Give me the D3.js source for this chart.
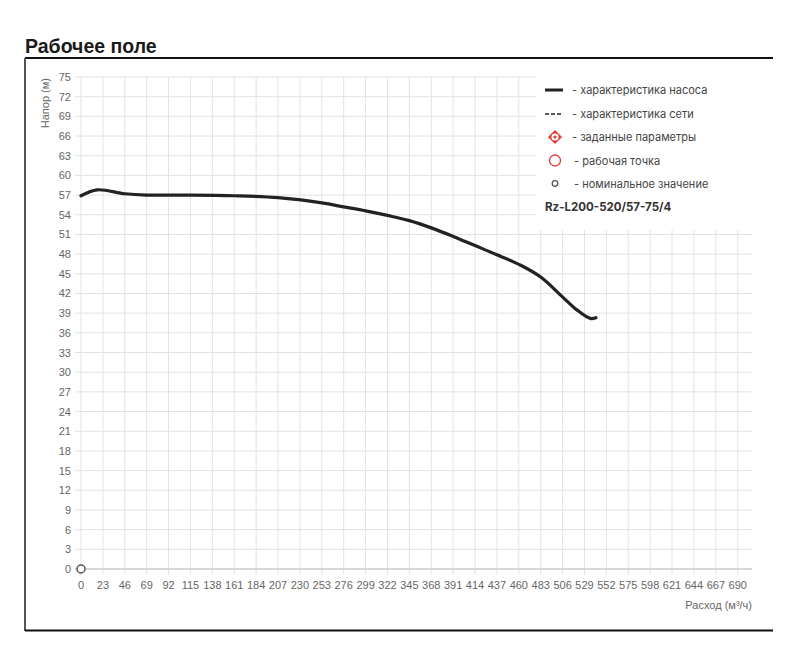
<!DOCTYPE html>
<html>
<head>
<meta charset="utf-8">
<script src="https://cdn.jsdelivr.net/npm/d3@7"></script>
<style>
  body { margin: 0; background: #fff; }
  svg { display: block; font-family: "Liberation Sans", Arial, sans-serif; }
</style>
</head>
<body>
<svg id="chart"></svg>
<script>
// расход, м³/ч
const flow = [0, 17, 46, 69, 115, 161, 207, 253, 276, 299, 322, 345, 368, 391, 414, 437, 462, 483, 505, 521, 535, 541];
// напор, м
const head = [56.9, 57.8, 57.2, 57.0, 57.0, 56.9, 56.6, 55.8, 55.2, 54.6, 53.9, 53.1, 52.0, 50.7, 49.3, 47.9, 46.3, 44.5, 41.6, 39.5, 38.2, 38.3];

const xTicks = d3.range(0, 691, 23);
const yTicks = d3.range(0, 76, 3);
const nominal = [{ q: 0, h: 0 }];

const legendItems = [
  { type: 'line', label: '- характеристика насоса' },
  { type: 'dash', label: '- характеристика сети' },
  { type: 'target', label: '- заданные параметры' },
  { type: 'work', label: '- рабочая точка' },
  { type: 'nominal', label: '- номинальное значение' }
];
const modelName = 'Rz-L200-520/57-75/4';

const W = 800, H = 665;
const svg = d3.select('#chart').attr('width', W).attr('height', H);

const x = d3.scaleLinear().domain([0, 705]).range([81, 752]);
const y = d3.scaleLinear().domain([0, 75]).range([569, 77]);

// заголовок
svg.append('text')
  .attr('x', 25).attr('y', 53)
  .style('font-size', '19.5px').style('font-weight', 'bold').style('fill', '#1a1a1a')
  .text('Рабочее поле');

// рамка
svg.append('line').attr('x1', 25).attr('x2', 773).attr('y1', 58).attr('y2', 58)
  .attr('stroke', '#111').attr('stroke-width', 2);
svg.append('line').attr('x1', 25).attr('x2', 25).attr('y1', 58).attr('y2', 631)
  .attr('stroke', '#555').attr('stroke-width', 2);
svg.append('line').attr('x1', 25).attr('x2', 773).attr('y1', 630.5).attr('y2', 630.5)
  .attr('stroke', '#111').attr('stroke-width', 2);

// сетка
const grid = svg.append('g');
grid.selectAll('line.v').data(xTicks).enter().append('line')
  .attr('x1', d => x(d)).attr('x2', d => x(d))
  .attr('y1', y(75)).attr('y2', y(0) + 6)
  .attr('stroke', '#e2e2e2').attr('stroke-width', 1);
grid.selectAll('line.h').data(yTicks).enter().append('line')
  .attr('x1', x(0) - 6).attr('x2', 752)
  .attr('y1', d => y(d)).attr('y2', d => y(d))
  .attr('stroke', d => (d === 0 ? '#d6d6d6' : '#e2e2e2'))
  .attr('stroke-width', d => (d === 0 ? 2 : 1));

// подписи осей
svg.append('g').selectAll('text').data(yTicks).enter().append('text')
  .attr('x', 71).attr('y', d => y(d) + 4)
  .attr('text-anchor', 'end')
  .style('font-size', '11px').style('fill', '#666')
  .text(d => d);
svg.append('g').selectAll('text').data(xTicks).enter().append('text')
  .attr('x', d => x(d)).attr('y', 589)
  .attr('text-anchor', 'middle')
  .style('font-size', '11px').style('fill', '#666')
  .text(d => d);

svg.append('text')
  .attr('transform', 'translate(49,78) rotate(-90)')
  .attr('text-anchor', 'end')
  .style('font-size', '11px').style('fill', '#666')
  .text('Напор (м)');
svg.append('text')
  .attr('x', 752).attr('y', 609)
  .attr('text-anchor', 'end')
  .style('font-size', '11px').style('fill', '#666')
  .text('Расход (м³/ч)');

// характеристика насоса
const pts = flow.map((q, i) => ({ q, h: head[i] }));
const line = d3.line().x(d => x(d.q)).y(d => y(d.h)).curve(d3.curveCatmullRom.alpha(0.5));
svg.append('path')
  .datum(pts)
  .attr('fill', 'none')
  .attr('stroke', '#222')
  .attr('stroke-width', 3.2)
  .attr('stroke-linecap', 'round')
  .attr('d', line);

// номинальное значение
svg.selectAll('circle.nom').data(nominal).enter().append('circle')
  .attr('cx', d => x(d.q)).attr('cy', d => y(d.h)).attr('r', 4)
  .attr('fill', '#fff').attr('stroke', '#555').attr('stroke-width', 1.5);

// легенда
const leg = svg.append('g');
leg.append('rect').attr('x', 536).attr('y', 60).attr('width', 236).attr('height', 170).attr('fill', '#fff');
const red = '#e53935';
legendItems.forEach((it, i) => {
  const cy = [90, 114, 137, 160.5, 183.5][i];
  const g = leg.append('g');
  if (it.type === 'line') {
    g.append('line').attr('x1', 545).attr('x2', 563).attr('y1', cy).attr('y2', cy)
      .attr('stroke', '#222').attr('stroke-width', 3);
  } else if (it.type === 'dash') {
    g.append('line').attr('x1', 545).attr('x2', 563).attr('y1', cy).attr('y2', cy)
      .attr('stroke', '#222').attr('stroke-width', 1.6).attr('stroke-dasharray', '4,2');
  } else if (it.type === 'target') {
    g.append('path').attr('d', `M555,${cy - 7}L562,${cy}L555,${cy + 7}L548,${cy}Z`).attr('fill', red);
    g.append('circle').attr('cx', 555).attr('cy', cy).attr('r', 3.6).attr('fill', '#fff');
    g.append('circle').attr('cx', 555).attr('cy', cy).attr('r', 1.6).attr('fill', red);
  } else if (it.type === 'work') {
    g.append('circle').attr('cx', 555).attr('cy', cy).attr('r', 5.5)
      .attr('fill', '#fff').attr('stroke', red).attr('stroke-width', 1.3);
  } else {
    g.append('circle').attr('cx', 555).attr('cy', cy).attr('r', 2.8)
      .attr('fill', '#fff').attr('stroke', '#555').attr('stroke-width', 1.3);
  }
  g.append('text')
    .attr('x', it.type === 'work' || it.type === 'nominal' ? 574 : 572)
    .attr('y', cy + 4)
    .style('font-family', 'Inter, "Noto Sans", sans-serif')
    .style('font-size', '11px').style('fill', '#444')
    .text(it.label);
});
leg.append('text')
  .attr('x', 545).attr('y', 211)
  .style('font-family', 'Inter, "Noto Sans", sans-serif')
  .style('font-size', '11.5px').style('font-weight', 'bold').style('fill', '#333')
  .text(modelName);
</script>
</body>
</html>
